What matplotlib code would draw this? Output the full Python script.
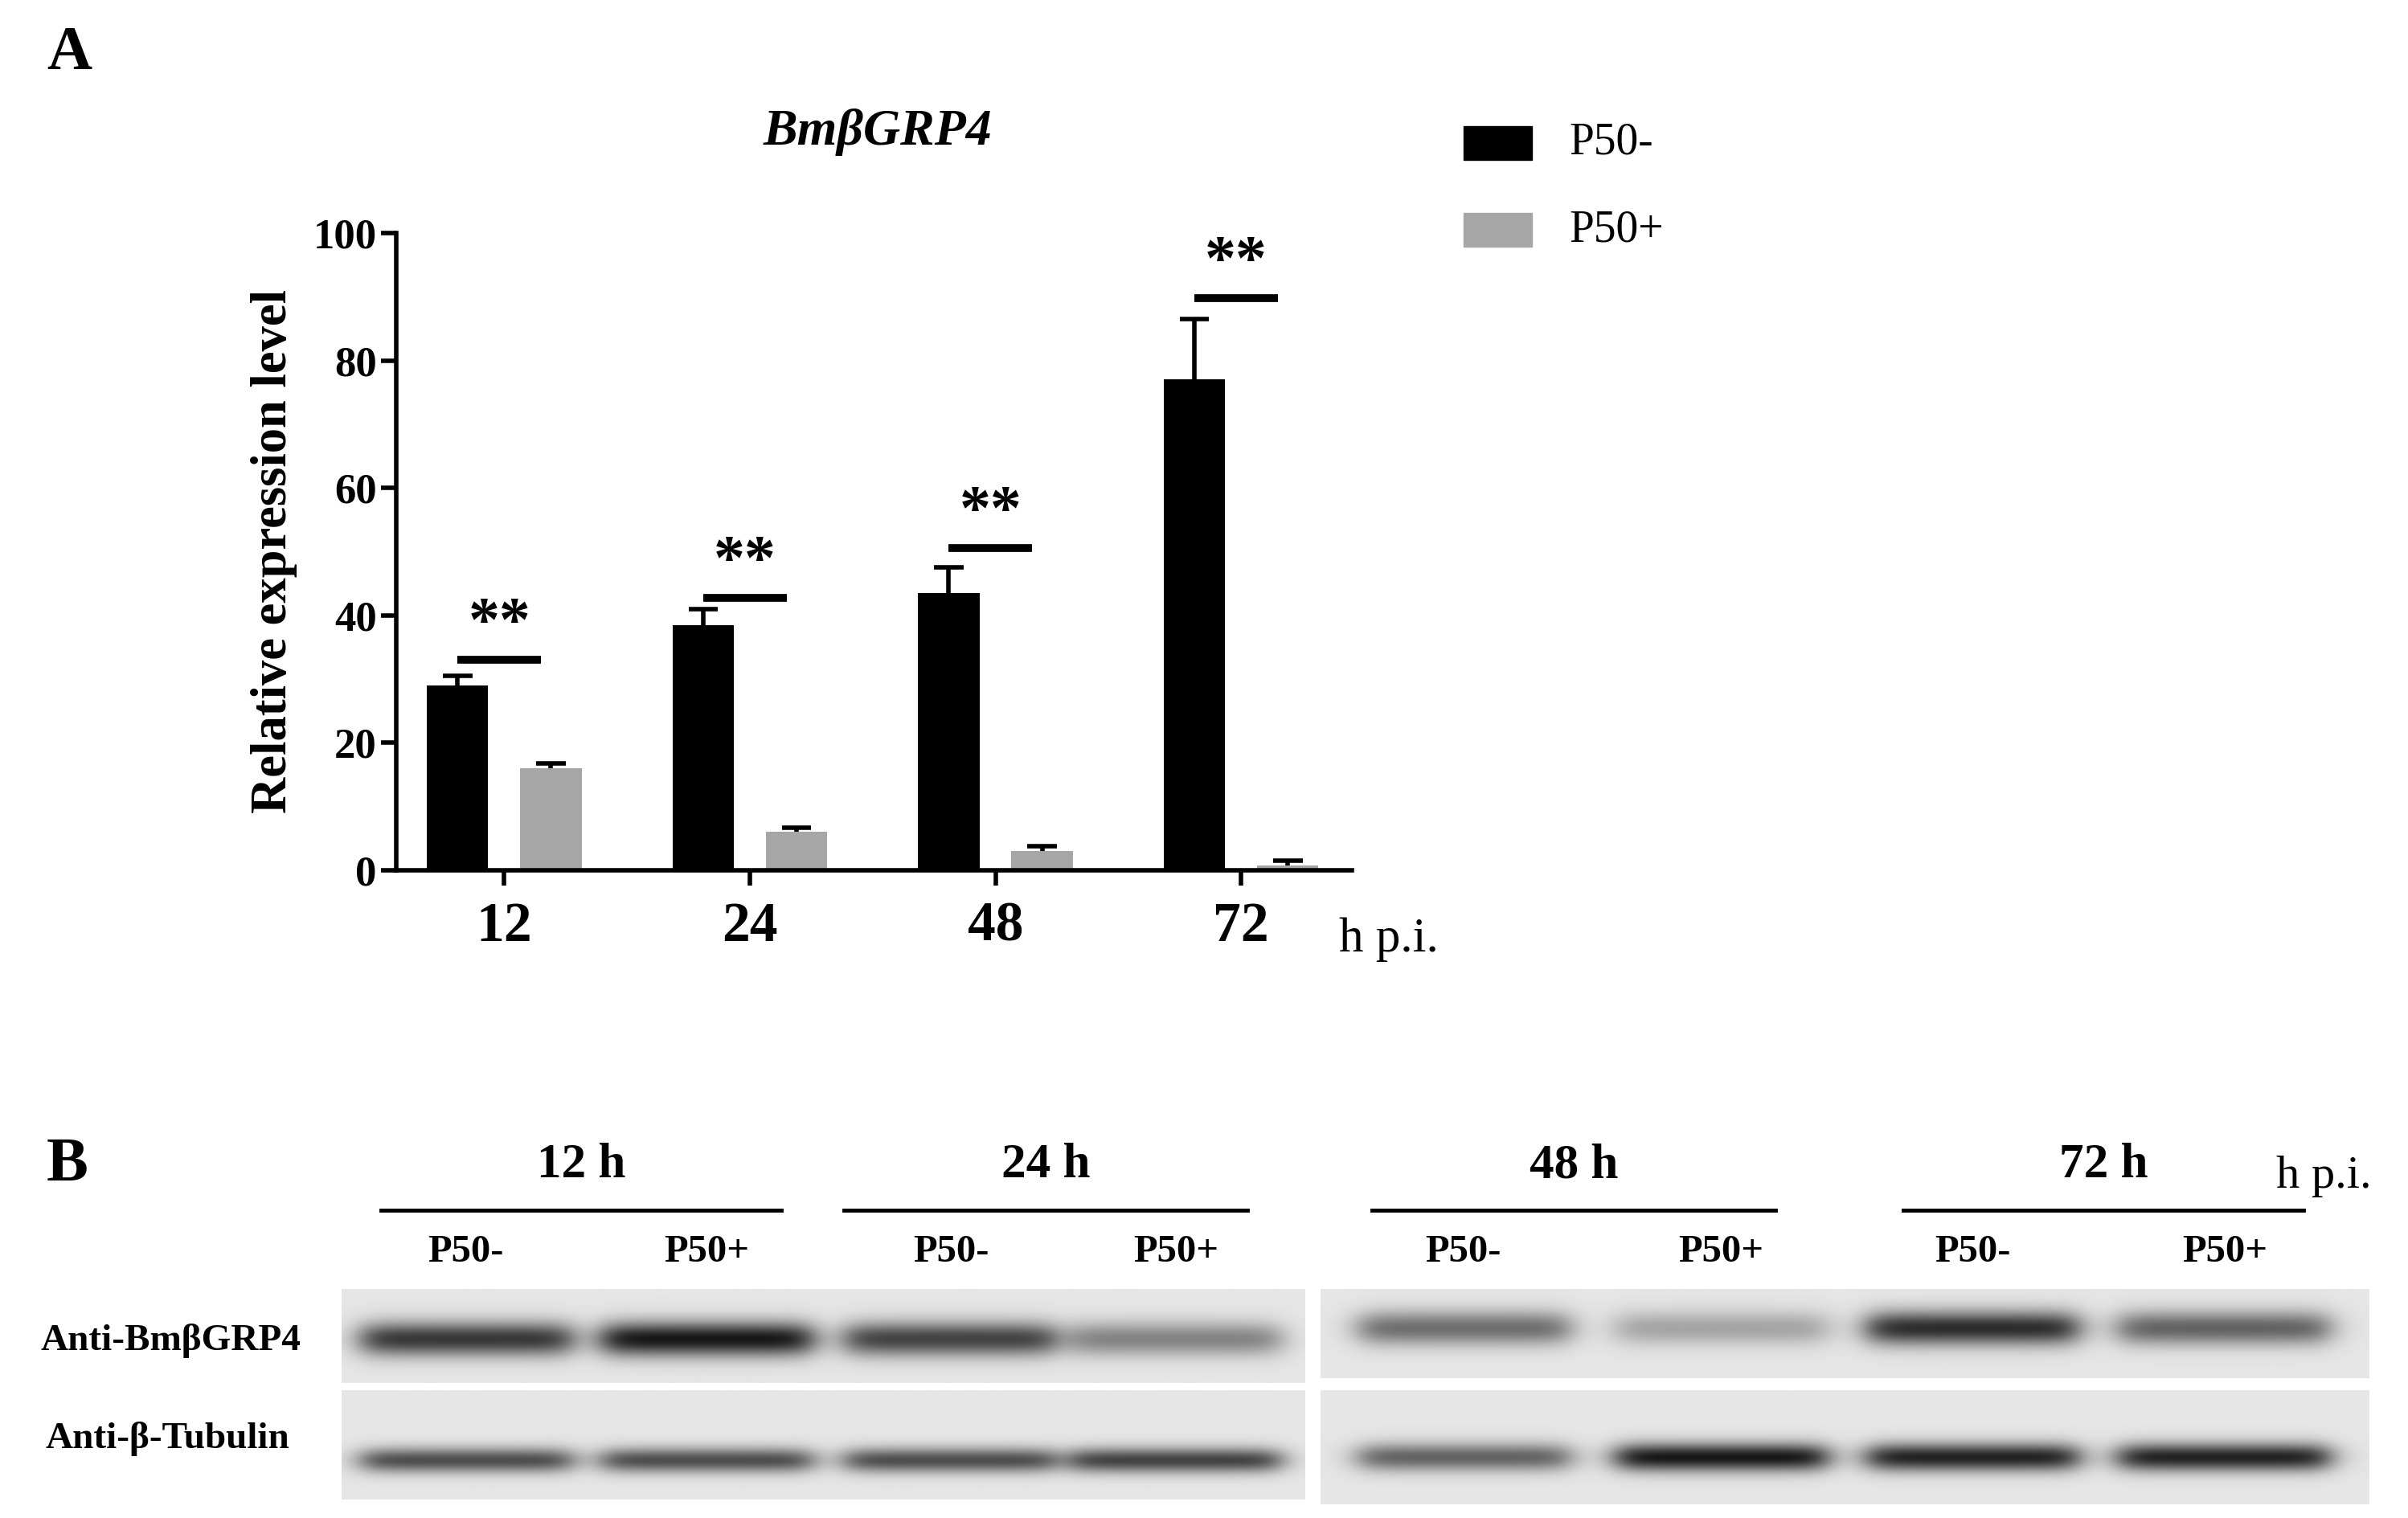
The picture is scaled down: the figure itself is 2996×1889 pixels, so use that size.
import numpy as np
import matplotlib
matplotlib.use("Agg")
import matplotlib.pyplot as plt

times = ["12", "24", "48", "72"]
neg_vals = [29, 38.5, 43.5, 77]
neg_err = [1.5, 2.5, 4.0, 9.5]
pos_vals = [16, 6, 3, 0.7]
pos_err = [0.8, 0.7, 0.8, 0.8]
sig_y = [33, 42.7, 50.5, 89.8]
sig_txt = ["**", "**", "**", "**"]

blot_times = ["12 h", "24 h", "48 h", "72 h"]
lanes = ["P50-", "P50+"] * 4
grp4_int = [0.8, 0.95, 0.75, 0.45, 0.55, 0.3, 0.85, 0.6]
tub_int = [0.7, 0.7, 0.7, 0.75, 0.6, 0.95, 0.9, 0.9]

plt.rcParams['font.family'] = ['Liberation Serif', 'DejaVu Serif']
W, H = 1550, 977
fig = plt.figure(figsize=(29.96, 18.89), dpi=100)

ov = fig.add_axes([0, 0, 1, 1], zorder=0)
ov.set_xlim(0, W); ov.set_ylim(H, 0); ov.axis('off')

ax = fig.add_axes([255/W, 1-560/H, (870-255)/W, (560-150)/H], zorder=1)
ax.patch.set_alpha(0)
x = np.arange(4)
off, bw = 0.19, 0.25
ax.bar(x-off, neg_vals, bw, color='black')
ax.bar(x+off, pos_vals, bw, color='#a6a6a6')
for xs, v, e in [(x-off, neg_vals, neg_err), (x+off, pos_vals, pos_err)]:
    v = np.array(v); e = np.array(e)
    ax.vlines(xs, v, v+e, color='black', lw=4)
    ax.hlines(v+e, xs-0.06, xs+0.06, color='black', lw=4)
for i in range(4):
    ax.plot([i-off, i+0.15], [sig_y[i]]*2, color='black', lw=7, solid_capstyle='butt')
    ax.text(i-0.02, sig_y[i]+1, sig_txt[i], ha='center', va='bottom', fontsize=56, fontweight='bold')
ax.set_ylim(0, 100); ax.set_xlim(-0.44, 3.45)
ax.set_yticks([0, 20, 40, 60, 80, 100])
ax.set_xticks(x); ax.set_xticklabels(times)
ax.tick_params(axis='y', labelsize=38, width=4, length=14)
ax.tick_params(axis='x', labelsize=50, width=4, length=14, pad=14)
for t in ax.get_xticklabels() + ax.get_yticklabels():
    t.set_fontweight('bold')
for s in ['top', 'right']:
    ax.spines[s].set_visible(False)
for s in ['left', 'bottom']:
    ax.spines[s].set_linewidth(4)
ax.set_ylabel("Relative expression level", fontsize=45, fontweight='bold', labelpad=14)

ov.text(565, 85, "BmβGRP4", ha='center', va='center', fontsize=46, fontweight='bold', style='italic')
ov.text(30, 35, "A", fontsize=56, fontweight='bold', va='center')
ov.text(862, 605, "h p.i.", fontsize=44, va='center')
ov.add_patch(plt.Rectangle((942, 81), 44, 22, color='black'))
ov.add_patch(plt.Rectangle((942, 137), 44, 22, color='#a6a6a6'))
ov.text(1010, 92, "P50-", fontsize=40, va='center')
ov.text(1010, 148, "P50+", fontsize=40, va='center')

ov.text(30, 750, "B", fontsize=56, fontweight='bold', va='center')
grp_x = [(245, 503), (543, 803), (883, 1143), (1225, 1483)]
for (a, b), t in zip(grp_x, blot_times):
    ov.plot([a, b], [779, 779], color='black', lw=3.5)
    ov.text((a+b)/2, 750, t, ha='center', va='center', fontsize=44, fontweight='bold')
ov.text(1465, 757, "h p.i.", fontsize=42, va='center')
lane_x = [300, 455, 612, 757, 942, 1108, 1270, 1432]
for lx, l in zip(lane_x, lanes):
    ov.text(lx, 806, l, ha='center', va='center', fontsize=35, fontweight='bold')
ov.text(110, 863, "Anti-BmβGRP4", ha='center', va='center', fontsize=34, fontweight='bold')
ov.text(108, 926, "Anti-β-Tubulin", ha='center', va='center', fontsize=34, fontweight='bold')

def blot(x0, x1, y0, y1, ids, ints, yc, sig):
    xs = np.linspace(x0, x1, 400); ys = np.linspace(y0, y1, 80)
    X, Y = np.meshgrid(xs, ys)
    img = np.full(X.shape, 0.9)
    for i in ids:
        cx = lane_x[i]
        prof = 1/(1+np.exp((np.abs(X-cx)-68)/6))
        img -= ints[i]*0.85*prof*np.exp(-((Y-yc)/sig)**2)
    ov.imshow(np.clip(img, 0, 1), cmap='gray', vmin=0, vmax=1, extent=(x0, x1, y1, y0), aspect='auto', interpolation='bilinear')

blot(220, 840, 830, 890, range(4), grp4_int, 862, 11)
blot(220, 840, 895, 965, range(4), tub_int, 940, 8)
blot(850, 1525, 830, 887, range(4, 8), grp4_int, 855, 11)
blot(850, 1525, 895, 968, range(4, 8), tub_int, 938, 9)
ov.set_xlim(0, W); ov.set_ylim(H, 0)

fig.savefig("out.png", dpi=100)
